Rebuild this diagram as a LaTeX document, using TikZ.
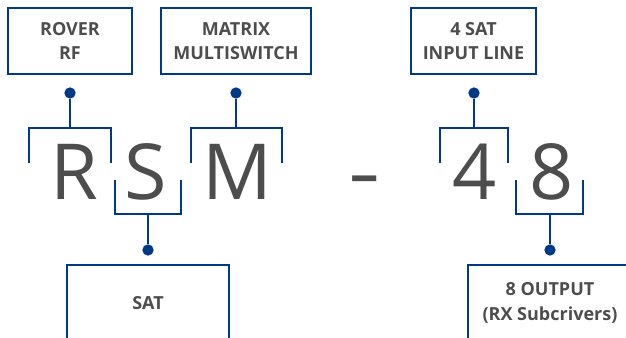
\documentclass[tikz,border=0pt]{standalone}
\usepackage{fontspec}
\setmainfont{Open Sans}
\usetikzlibrary{positioning}
\definecolor{rsmblue}{HTML}{003A86}
\definecolor{rsmgrey}{HTML}{4D4D4D}

\begin{document}
\begin{tikzpicture}[x=0.75pt,y=-0.75pt,
  labelbox/.style={draw=rsmblue,line width=1.5pt,text=rsmgrey,align=center,
    font=\bfseries\fontsize{13.5}{18.5}\selectfont,minimum height=49.5pt},
  bigletter/.style={text=rsmgrey,font=\fontsize{58}{58}\selectfont,anchor=base,inner sep=0pt},
  bracket/.style={draw=rsmblue,line width=2.2pt},
  stem/.style={draw=rsmblue,line width=1.5pt},
  pin/.style={circle,fill=rsmblue,inner sep=0pt,minimum size=8.5pt}]
                    \useasboundingbox (0,0) rectangle (626,338);
                    \clip (0,0) rectangle (626,338);

                    \node[labelbox,minimum width=93pt] (rover) at (70,41) {ROVER\\RF};
                    \node[labelbox,minimum width=112.5pt] (matrix) at (236,41) {MATRIX\\MULTISWITCH};
                    \node[labelbox,minimum width=93.75pt] (input) at (473.5,41) {4 SAT\\INPUT LINE};
                    \node[labelbox,minimum width=121.5pt,minimum height=57pt] (sat) at (148,303) {SAT};
                    \node[labelbox,minimum width=123pt,minimum height=57pt] (output) at (550,303) {8 OUTPUT\\(RX Subcrivers)};

                    \node[bigletter] (R) at (74,200) {R};
                    \node[bigletter] (S) at (146,200) {S};
                    \node[bigletter] (M) at (237,200) {M};
                    \node[bigletter,xscale=1.3] (dash) at (365,200) {-};
                    \node[bigletter] (four) at (475,200) {4};
                    \node[bigletter] (eight) at (552,200) {8};

                    \node[pin] (pinR) at (70,93) {};
                    \node[pin] (pinM) at (236,93) {};
                    \node[pin] (pin4) at (474,93) {};
                    \node[pin] (pinS) at (148,250) {};
                    \node[pin] (pin8) at (550,250) {};

                    \coordinate (topR) at (70,128);
                    \coordinate (topM) at (236,128);
                    \coordinate (top4) at (474,128);
                    \coordinate (botS) at (148,214);
                    \coordinate (bot8) at (550,214);

                    \draw[bracket] (29,163) -- (29,128) -- (111,128) -- (111,163);
                    \draw[bracket] (191,163) -- (191,128) -- (282,128) -- (282,163);
                    \draw[bracket] (440,163) -- (440,128) -- (508,128) -- (508,163);
                    \draw[bracket] (115,180) -- (115,214) -- (181,214) -- (181,180);
                    \draw[bracket] (516,180) -- (516,214) -- (583,214) -- (583,180);

                    \draw[stem] (pinR) -- (topR);
                    \draw[stem] (pinM) -- (topM);
                    \draw[stem] (pin4) -- (top4);
                    \draw[stem] (botS) -- (pinS);
                    \draw[stem] (bot8) -- (pin8);
                 \end{tikzpicture}
\end{document}
